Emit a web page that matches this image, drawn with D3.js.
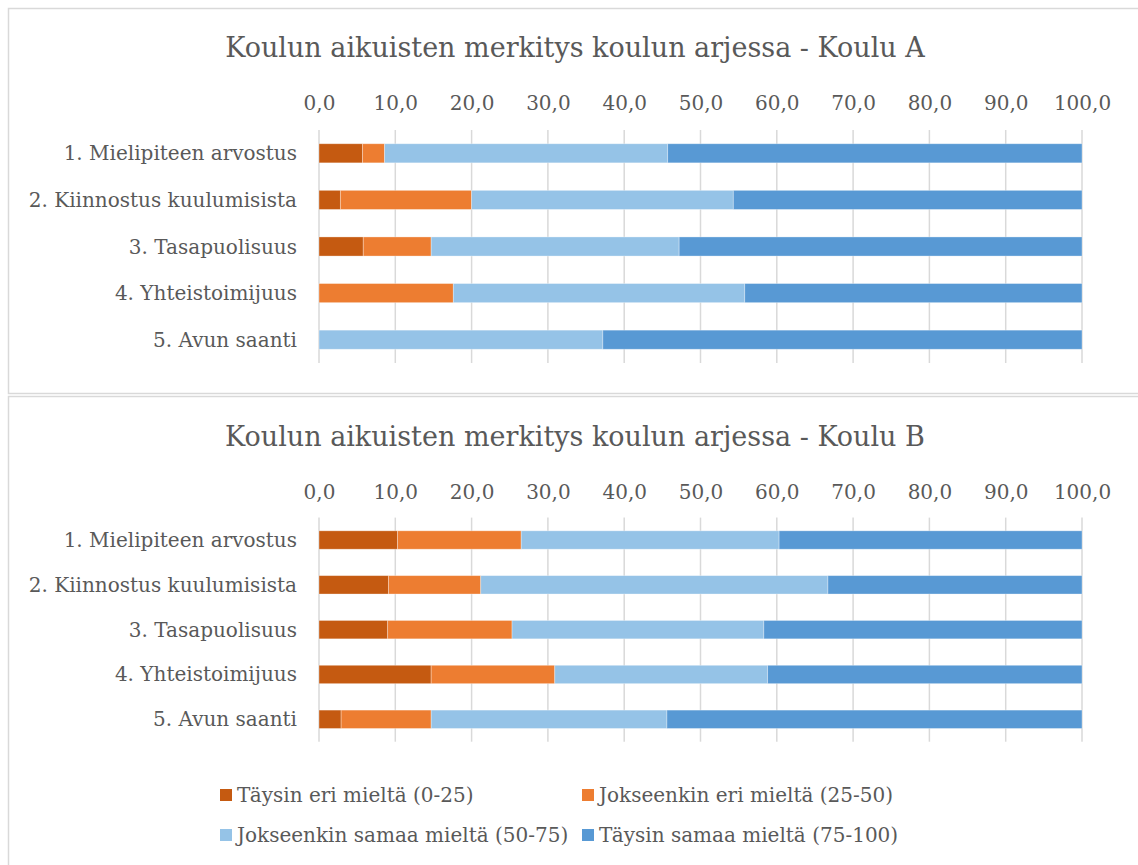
<!DOCTYPE html>
<html>
<head>
<meta charset="utf-8">
<script src="https://cdn.jsdelivr.net/npm/d3@7"></script>
<style>
  body { margin: 0; background: #fff; }
  svg { display: block; }
  text { font-family: "DejaVu Serif", serif; fill: #595959; }
</style>
</head>
<body>
<div id="chart"></div>
<script>
// Categories and series
const categories = [
    '1. Mielipiteen arvostus',
    '2. Kiinnostus kuulumisista',
    '3. Tasapuolisuus',
    '4. Yhteistoimijuus',
    '5. Avun saanti'
];
const seriesNames = [
    'Täysin eri mieltä (0-25)',
    'Jokseenkin eri mieltä (25-50)',
    'Jokseenkin samaa mieltä (50-75)',
    'Täysin samaa mieltä (75-100)'
];
const colors = ['#c55a11', '#ed7d31', '#95c3e7', '#5899d4'];
const ticks = [0, 10, 20, 30, 40, 50, 60, 70, 80, 90, 100];

// Koulu A values (percent)
const aTaysinEri = [5.7, 2.8, 5.8, 0, 0];
const aJokseenkinEri = [2.9, 17.2, 8.9, 17.6, 0];
const aJokseenkinSamaa = [37.1, 34.3, 32.5, 38.2, 37.2];
const aTaysinSamaa = [54.3, 45.7, 52.8, 44.2, 62.8];

// Koulu B values (percent)
const bTaysinEri = [10.3, 9.1, 9.0, 14.7, 2.9];
const bJokseenkinEri = [16.2, 12.1, 16.3, 16.2, 11.8];
const bJokseenkinSamaa = [33.8, 45.5, 33.0, 27.9, 30.9];
const bTaysinSamaa = [39.7, 33.3, 41.7, 41.2, 54.4];

const width = 1138, height = 865;
const svg = d3.select('#chart').append('svg')
    .attr('width', width)
    .attr('height', height);

function buildRows(s1, s2, s3, s4) {
    return categories.map((c, i) => ({
        cat: c, s0: s1[i], s1: s2[i], s2: s3[i], s3: s4[i]
    }));
}

// Draw one chart panel
function drawChart(opts) {
    const g = svg.append('g');

    // Chart frame
    g.append('rect')
        .attr('x', 8.5).attr('y', opts.frameTop + 0.5)
        .attr('width', 1200).attr('height', opts.frameHeight)
        .attr('fill', '#fff')
        .attr('stroke', '#d9d9d9').attr('stroke-width', 1.5);

    g.append('text')
        .attr('x', 575).attr('y', opts.titleY)
        .attr('text-anchor', 'middle')
        .style('font-size', '27px')
        .text(opts.title);

    const x = d3.scaleLinear().domain([0, 100]).range([319, 1082]);
    const y = d3.scaleBand().domain(categories)
        .range([opts.plotTop, opts.plotBottom])
        .paddingInner(0.59).paddingOuter(0.295);

    // Gridlines
    g.append('g')
        .selectAll('line')
        .data(ticks)
        .enter()
        .append('line')
        .attr('x1', d => x(d)).attr('x2', d => x(d))
        .attr('y1', opts.plotTop).attr('y2', opts.plotBottom)
        .attr('stroke', '#d9d9d9').attr('stroke-width', 1.5);

    // Top axis labels
    const axis = g.append('g')
        .attr('transform', `translate(0,${opts.axisY})`)
        .call(d3.axisTop(x).tickValues(ticks).tickSize(0).tickPadding(0)
            .tickFormat(d => d.toFixed(1).replace('.', ',')));
    axis.select('.domain').remove();
    axis.selectAll('text')
        .style('font-family', '"DejaVu Serif", serif')
        .style('font-size', '20px')
        .attr('fill', '#595959');

    // Category labels
    g.append('g')
        .selectAll('text')
        .data(categories)
        .enter()
        .append('text')
        .attr('x', 297)
        .attr('y', d => y(d) + y.bandwidth() / 2)
        .attr('dy', '0.35em')
        .attr('text-anchor', 'end')
        .style('font-size', '20px')
        .text(d => d);

    // Stacked bars
    const stacked = d3.stack().keys(['s0', 's1', 's2', 's3'])(opts.rows);
    g.append('g')
        .selectAll('g')
        .data(stacked)
        .enter()
        .append('g')
        .attr('fill', (d, i) => colors[i])
        .selectAll('rect')
        .data(d => d)
        .enter()
        .append('rect')
        .attr('x', d => x(d[0]))
        .attr('y', d => y(d.data.cat))
        .attr('width', d => x(d[1]) - x(d[0]))
        .attr('height', y.bandwidth())
        .attr('stroke', '#fff').attr('stroke-opacity', 0.4).attr('stroke-width', 0.8);
}

drawChart({
    title: 'Koulun aikuisten merkitys koulun arjessa - Koulu A',
    rows: buildRows(aTaysinEri, aJokseenkinEri, aJokseenkinSamaa, aTaysinSamaa),
    frameTop: 8, frameHeight: 385,
    titleY: 57, axisY: 110,
    plotTop: 130, plotBottom: 363
});

drawChart({
    title: 'Koulun aikuisten merkitys koulun arjessa - Koulu B',
    rows: buildRows(bTaysinEri, bJokseenkinEri, bJokseenkinSamaa, bTaysinSamaa),
    frameTop: 396, frameHeight: 600,
    titleY: 446, axisY: 499,
    plotTop: 517.6, plotBottom: 741.7
});

// Legend
const legendPos = [
    { x: 220, y: 795 }, { x: 582, y: 795 },
    { x: 220, y: 835 }, { x: 582, y: 835 }
];
const legend = svg.append('g')
    .selectAll('g')
    .data(seriesNames)
    .enter()
    .append('g')
    .attr('transform', (d, i) => `translate(${legendPos[i].x},${legendPos[i].y})`);
legend.append('rect')
    .attr('x', 0).attr('y', -6)
    .attr('width', 12).attr('height', 12)
    .attr('fill', (d, i) => colors[i]);
legend.append('text')
    .attr('x', 17).attr('y', 0)
    .attr('dy', '0.35em')
    .style('font-size', '20px')
    .text(d => d);
</script>
</body>
</html>
